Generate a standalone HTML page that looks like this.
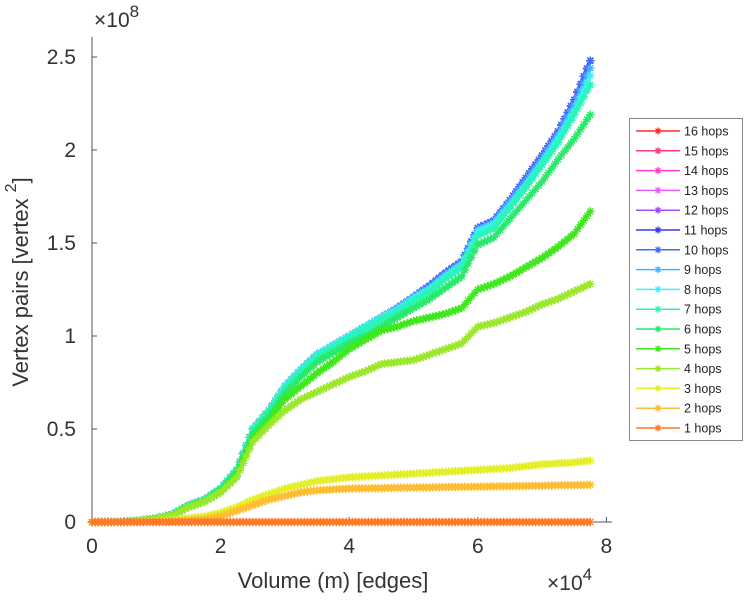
<!DOCTYPE html>
<html><head><meta charset="utf-8"><style>
body{margin:0;background:#fff;}
svg{display:block;font-family:"Liberation Sans",sans-serif;}
</style></head><body>
<svg id="chart" width="750" height="600" viewBox="0 0 750 600">
<g id="axes"></g>
<g id="series"></g>
<g id="legend"></g>
<text transform="translate(28,282) rotate(-90)" text-anchor="middle" font-size="22" fill="#333">Vertex pairs [vertex <tspan dy="-12" font-size="16">2</tspan><tspan dy="12">]</tspan></text>
<text x="333" y="588" text-anchor="middle" font-size="22" fill="#333">Volume (m) [edges]</text>
<text x="94" y="27" font-size="21" fill="#333">×10<tspan dy="-10" font-size="17">8</tspan></text>
<text x="547" y="590" font-size="21" fill="#333">×10<tspan dy="-10" font-size="17">4</tspan></text>
</svg>
<script>
const xs=[0,0.25,0.5,0.75,1,1.25,1.5,1.75,2,2.25,2.5,2.75,3,3.25,3.5,3.75,4,4.25,4.5,4.75,5,5.25,5.5,5.75,6,6.25,6.5,6.75,7,7.25,7.5,7.75];
const top10=[0,0,0.002,0.008,0.02,0.04,0.09,0.12,0.18,0.28,0.5,0.6,0.73,0.82,0.9,0.95,1.0,1.05,1.1,1.15,1.21,1.27,1.34,1.4,1.58,1.62,1.73,1.85,1.97,2.1,2.27,2.48];
const hop9=[0,0,0.002,0.008,0.02,0.04,0.09,0.12,0.18,0.28,0.5,0.6,0.73,0.82,0.9,0.95,1.0,1.05,1.1,1.15,1.21,1.26,1.33,1.39,1.57,1.61,1.72,1.83,1.95,2.08,2.24,2.44];
const hop8=[0,0,0.002,0.008,0.02,0.04,0.09,0.12,0.18,0.28,0.5,0.6,0.73,0.82,0.9,0.95,1.0,1.05,1.1,1.14,1.2,1.25,1.32,1.38,1.56,1.6,1.7,1.81,1.93,2.06,2.21,2.40];
const hop7=[0,0,0.002,0.008,0.02,0.04,0.09,0.12,0.18,0.28,0.5,0.6,0.72,0.81,0.89,0.94,0.99,1.04,1.09,1.13,1.19,1.24,1.31,1.37,1.54,1.58,1.69,1.8,1.92,2.04,2.19,2.35];
const hop6=[0,0,0.002,0.008,0.02,0.04,0.085,0.115,0.17,0.27,0.47,0.57,0.69,0.78,0.86,0.91,0.96,1.0,1.05,1.1,1.15,1.2,1.26,1.32,1.49,1.53,1.63,1.73,1.83,1.95,2.06,2.19];
const hop5=[0,0,0.002,0.007,0.018,0.035,0.08,0.11,0.16,0.25,0.45,0.54,0.66,0.73,0.8,0.86,0.93,0.98,1.03,1.05,1.08,1.1,1.12,1.15,1.25,1.28,1.32,1.37,1.42,1.48,1.55,1.67];
const hop4=[0,0,0.002,0.007,0.018,0.035,0.08,0.11,0.16,0.24,0.43,0.52,0.6,0.66,0.7,0.74,0.78,0.81,0.85,0.86,0.87,0.9,0.93,0.96,1.05,1.07,1.1,1.13,1.17,1.2,1.24,1.28];
const hop3=[0,0,0.001,0.003,0.005,0.01,0.02,0.03,0.05,0.08,0.12,0.15,0.18,0.2,0.22,0.23,0.24,0.245,0.25,0.255,0.26,0.265,0.27,0.275,0.28,0.285,0.29,0.3,0.31,0.315,0.32,0.33];
const hop2=[0,0,0,0.001,0.002,0.004,0.008,0.015,0.03,0.06,0.09,0.12,0.14,0.16,0.17,0.175,0.18,0.181,0.182,0.184,0.185,0.186,0.188,0.189,0.19,0.191,0.192,0.194,0.195,0.197,0.198,0.20];
const hop1=[0,0,0,0,0,0,0,0,0,0,0,0,0,0,0,0,0,0,0,0,0,0,0,0,0,0,0,0,0,0,0,0];
const labels=["16 hops","15 hops","14 hops","13 hops","12 hops","11 hops","10 hops","9 hops","8 hops","7 hops","6 hops","5 hops","4 hops","3 hops","2 hops","1 hops"];
const seriesData=[top10,top10,top10,top10,top10,top10,top10,hop9,hop8,hop7,hop6,hop5,hop4,hop3,hop2,hop1];
const colors=["#ff2a2a","#ff3b7f","#ff3bd0","#e95cff","#a04cff","#3a3ae8","#3f6bff","#45b4ff","#3ff0ff","#2af5b8","#2ae86a","#3ee81c","#9be82a","#e4ef2a","#ffbd33","#ff7a2a"];
const xTicks=[0,2,4,6,8];
const yTicks=[0,0.5,1,1.5,2,2.5];
const yTickLabels=["0","0.5","1","1.5","2","2.5"];

const NS="http://www.w3.org/2000/svg";
const X0=92,XS=64.3,Y0=522,YS=186;
const sx=v=>X0+v*XS, sy=v=>Y0-v*YS;
function mk(t,a,p){const e=document.createElementNS(NS,t);for(const k in a)e.setAttribute(k,a[k]);p.appendChild(e);return e;}
const axes=document.getElementById('axes');
let e=mk('line',{x1:X0,y1:37,x2:X0,y2:Y0,stroke:'#555','stroke-width':1},axes);


e=mk('line',{x1:X0,y1:Y0,x2:612,y2:Y0,stroke:'#555','stroke-width':1},axes);


xTicks.forEach(t=>{
  mk('line',{x1:sx(t),y1:Y0,x2:sx(t),y2:Y0-5,stroke:'#555'},axes);
  const tx=mk('text',{x:sx(t),y:Y0+31,'text-anchor':'middle','font-size':21,fill:'#333'},axes);
  tx.textContent=t;
  
  
});
yTicks.forEach((t,i)=>{
  mk('line',{x1:X0,y1:sy(t),x2:X0+5,y2:sy(t),stroke:'#555'},axes);
  const tx=mk('text',{x:X0-16,y:sy(t)+7,'text-anchor':'end','font-size':21,fill:'#333'},axes);
  tx.textContent=yTickLabels[i];
  
  
});
function star(g,x,y,c,r,w){
  mk('path',{d:`M${x-r},${y}H${x+r}M${x},${y-r}V${y+r}M${x-r*0.7},${y-r*0.7}L${x+r*0.7},${y+r*0.7}M${x-r*0.7},${y+r*0.7}L${x+r*0.7},${y-r*0.7}`,stroke:c,'stroke-width':w||1.3,fill:'none'},g);
}
const sg=document.getElementById('series');
seriesData.forEach((d,i)=>{
  const g=mk('g',{},sg);
  
  
  mk('polyline',{points:d.map((v,j)=>sx(xs[j])+','+sy(v)).join(' '),fill:'none',stroke:colors[i],'stroke-width':4,'stroke-opacity':0.8},g);
  for(let j=0;j<xs.length-1;j++){
    for(let k=0;k<5;k++){
      const f=k/5, xv=xs[j]+(xs[j+1]-xs[j])*f, yv=d[j]+(d[j+1]-d[j])*f;
      star(g,sx(xv),sy(yv),colors[i],4.2,1.4);
    }
  }
  star(g,sx(xs[xs.length-1]),sy(d[d.length-1]),colors[i],4.2,1.4);
});
const lg=document.getElementById('legend');
e=mk('rect',{x:629.5,y:118.5,width:113,height:322,fill:'#fff',stroke:'#888','stroke-width':1},lg);


labels.forEach((l,i)=>{
  const y=131+i*19.8;
  const g=mk('g',{},lg);
  
  
  mk('line',{x1:636,y1:y,x2:680,y2:y,stroke:colors[i],'stroke-width':1.5},g);
  star(g,658,y,colors[i],3.5);
  const t=mk('text',{x:684,y:y+4.5,'font-size':12.5,fill:'#222'},g);
  t.textContent=l;
});
</script>
</body></html>
